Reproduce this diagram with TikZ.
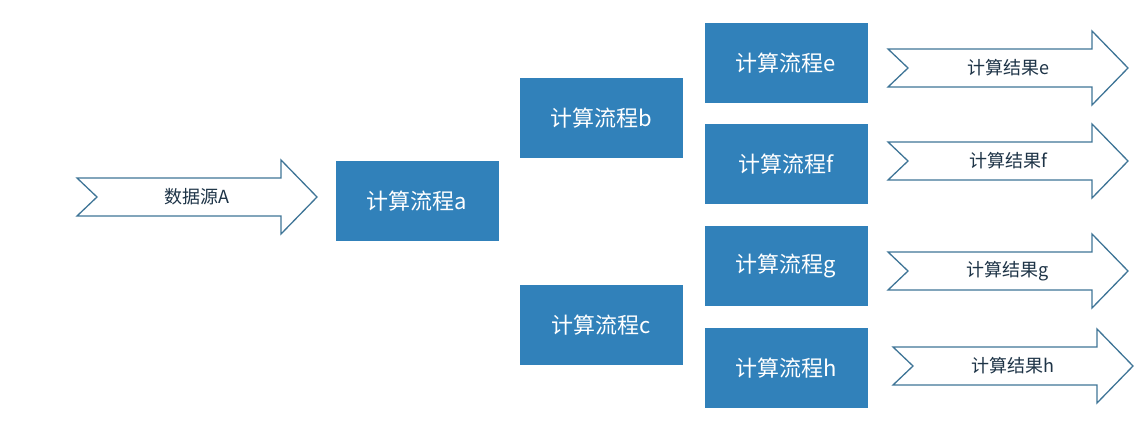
\documentclass[tikz,border=0pt]{standalone}
\usepackage{fontspec}
\setmainfont{Liberation Serif}
\newfontfamily\cjk{Noto Sans CJK SC}
\definecolor{StepFill}{HTML}{3181BA}
\definecolor{ArrowLine}{HTML}{3F7597}
\definecolor{ArrowText}{HTML}{1E3447}
\tikzset{
    stepbox/.style={
        fill=StepFill, text=white, minimum width=163pt, minimum height=80pt,
        inner sep=0pt, font=\fontsize{22}{24}\selectfont
    },
    arrowtext/.style={text=ArrowText, font=\fontsize{18}{20}\selectfont},
    resarrow/.pic={
        \draw[ArrowLine, line width=1.3pt, fill=white, line join=miter]
            (0,-19) -- (204,-19) -- (204,-37) -- (240,0) -- (204,37)
            -- (204,19) -- (0,19) -- (20,0) -- cycle;
    },
}

\begin{document}
\begin{tikzpicture}[x=1pt, y=-1pt]

    \useasboundingbox (0,0) rectangle (1140,431);

    \node[stepbox] (a) at (417,201) {\cjk{计算流程}a};
    \node[stepbox] (b) at (601,118) {\cjk{计算流程}b};
    \node[stepbox] (c) at (601,325) {\cjk{计算流程}c};
    \node[stepbox] (e) at (786,63)  {\cjk{计算流程}e};
    \node[stepbox] (f) at (786,164) {\cjk{计算流程}f};
    \node[stepbox] (g) at (786,266) {\cjk{计算流程}g};
    \node[stepbox] (h) at (786,368) {\cjk{计算流程}h};

    \pic at (77,197)  {resarrow};
    \pic at (888,68)  {resarrow};
    \pic at (888,161) {resarrow};
    \pic at (888,271) {resarrow};
    \pic at (893,366) {resarrow};

    \node[arrowtext] (srcA) at (197,197) {\cjk{数据源}A};
    \node[arrowtext] (rese) at (1008,68)  {\cjk{计算结果}e};
    \node[arrowtext] (resf) at (1008,161) {\cjk{计算结果}f};
    \node[arrowtext] (resg) at (1008,271) {\cjk{计算结果}g};
    \node[arrowtext] (resh) at (1013,366) {\cjk{计算结果}h};

\end{tikzpicture}
\end{document}
